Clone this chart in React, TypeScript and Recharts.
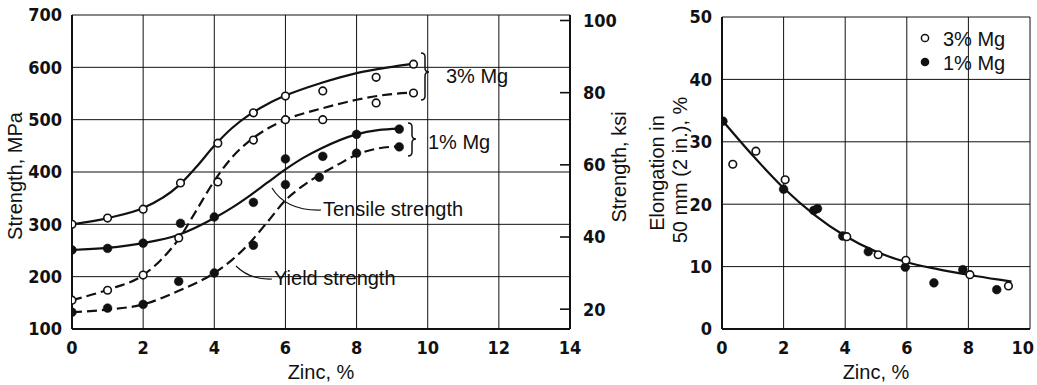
import React from 'react';
import { ComposedChart, Line, Scatter, XAxis, YAxis, CartesianGrid } from 'recharts';

// ---------- data: left chart (strength vs zinc) ----------
const zincTicksLeft = [0, 2, 4, 6, 8, 10, 12, 14];
const mpaTicks = [100, 200, 300, 400, 500, 600, 700];
const ksiTicks = [20, 40, 60, 80, 100];
const MPA_PER_KSI = 6.895;

// measured points (zinc %, MPa)
const mg3TensilePts = [
  { x: 0, y: 300 }, { x: 1, y: 312 }, { x: 2, y: 329 }, { x: 3.05, y: 379 }, { x: 4.1, y: 455 },
  { x: 5.1, y: 513 }, { x: 6, y: 545 }, { x: 7.05, y: 555 }, { x: 8.55, y: 581 }, { x: 9.6, y: 606 },
];
const mg3YieldPts = [
  { x: 0, y: 155 }, { x: 1, y: 174 }, { x: 2, y: 203 }, { x: 3, y: 274 }, { x: 4.1, y: 381 },
  { x: 5.1, y: 461 }, { x: 6, y: 500 }, { x: 7.05, y: 500 }, { x: 8.55, y: 532 }, { x: 9.6, y: 551 },
];
const mg1TensilePts = [
  { x: 0, y: 251 }, { x: 1, y: 254 }, { x: 2, y: 264 }, { x: 3.05, y: 302 }, { x: 4, y: 314 },
  { x: 5.1, y: 342 }, { x: 6, y: 425 }, { x: 7.05, y: 430 }, { x: 8, y: 472 }, { x: 9.2, y: 482 },
];
const mg1YieldPts = [
  { x: 0, y: 132 }, { x: 1, y: 140 }, { x: 2, y: 147 }, { x: 3, y: 191 }, { x: 4, y: 207 },
  { x: 5.1, y: 260 }, { x: 6, y: 376 }, { x: 6.95, y: 390 }, { x: 8, y: 436 }, { x: 9.2, y: 448 },
];

// fitted curves (zinc %, MPa)
const mg3TensileCurve = [
  { x: 0, y: 300 }, { x: 1, y: 312 }, { x: 2, y: 331 }, { x: 3, y: 374 }, { x: 3.5, y: 410 },
  { x: 4, y: 450 }, { x: 4.5, y: 484 }, { x: 5, y: 510 }, { x: 5.5, y: 530 }, { x: 6, y: 546 },
  { x: 7, y: 570 }, { x: 8, y: 589 }, { x: 9, y: 601 }, { x: 9.6, y: 607 },
];
const mg3YieldCurve = [
  { x: 0, y: 155 }, { x: 1, y: 175 }, { x: 2, y: 203 }, { x: 2.5, y: 232 }, { x: 3, y: 272 },
  { x: 3.5, y: 327 }, { x: 4, y: 383 }, { x: 4.5, y: 428 }, { x: 5, y: 460 }, { x: 5.5, y: 483 },
  { x: 6, y: 500 }, { x: 7, y: 521 }, { x: 8, y: 538 }, { x: 9, y: 549 }, { x: 9.6, y: 552 },
];
const mg1TensileCurve = [
  { x: 0, y: 251 }, { x: 1, y: 255 }, { x: 2, y: 264 }, { x: 3, y: 280 }, { x: 4, y: 312 },
  { x: 4.5, y: 332 }, { x: 5, y: 355 }, { x: 5.5, y: 380 }, { x: 6, y: 405 }, { x: 6.5, y: 427 },
  { x: 7, y: 445 }, { x: 8, y: 472 }, { x: 8.6, y: 480 }, { x: 9.2, y: 483 },
];
const mg1YieldCurve = [
  { x: 0, y: 132 }, { x: 1, y: 137 }, { x: 2, y: 147 }, { x: 3, y: 173 }, { x: 4, y: 207 },
  { x: 4.5, y: 232 }, { x: 5, y: 265 }, { x: 5.5, y: 305 }, { x: 6, y: 346 }, { x: 6.5, y: 374 },
  { x: 7, y: 396 }, { x: 7.5, y: 415 }, { x: 8, y: 433 }, { x: 8.6, y: 445 }, { x: 9.2, y: 449 },
];

// ---------- data: right chart (elongation vs zinc) ----------
const zincTicksRight = [0, 2, 4, 6, 8, 10];
const elongTicks = [0, 10, 20, 30, 40, 50];
const elong3MgPts = [
  { x: 0.35, y: 26.4 }, { x: 1.1, y: 28.5 }, { x: 2.05, y: 23.9 }, { x: 4.05, y: 14.8 },
  { x: 5.07, y: 11.9 }, { x: 5.97, y: 11.0 }, { x: 8.05, y: 8.7 }, { x: 9.3, y: 6.9 },
];
const elong1MgPts = [
  { x: 0.03, y: 33.3 }, { x: 2.0, y: 22.4 }, { x: 2.98, y: 19.0 }, { x: 3.1, y: 19.3 },
  { x: 3.92, y: 14.9 }, { x: 4.75, y: 12.4 }, { x: 5.95, y: 9.9 }, { x: 6.88, y: 7.4 },
  { x: 7.82, y: 9.5 }, { x: 8.92, y: 6.3 },
];
const elongCurve = [
  { x: 0, y: 33.5 }, { x: 1, y: 27.8 }, { x: 2, y: 22.6 }, { x: 3, y: 18.3 }, { x: 4, y: 14.9 },
  { x: 5, y: 12.4 }, { x: 6, y: 10.7 }, { x: 7, y: 9.6 }, { x: 8, y: 8.7 }, { x: 9, y: 7.9 },
  { x: 9.4, y: 7.6 },
];

// ---------- styles ----------
const TICK_FONT = "'Liberation Sans Narrow', 'Arial Narrow', 'DejaVu Sans Condensed', sans-serif";
const LABEL_FONT = "'Liberation Sans', Arial, Helvetica, sans-serif";
const INK = '#111';
const DASH = '10 5';
const tickStyle = { fontFamily: TICK_FONT, fontSize: 18, fontWeight: 'bold', fill: INK };

const OpenDot = (props: any) => {
  const { cx, cy } = props;
  if (cx == null || cy == null) return null;
  return <circle cx={cx} cy={cy} r={3.8} fill="#fff" stroke={INK} strokeWidth={1.6} />;
};
const FilledDot = (props: any) => {
  const { cx, cy } = props;
  if (cx == null || cy == null) return null;
  return <circle cx={cx} cy={cy} r={4.4} fill={INK} stroke={INK} strokeWidth={0.5} />;
};

const KsiTick = (props: any) => {
  const { x, y, payload } = props;
  const axisX = x - 13;
  return (
    <g>
      <line x1={axisX - 10} x2={axisX} y1={y} y2={y} stroke={INK} strokeWidth={1.6} />
      <text x={x} y={y} dy="0.36em" textAnchor="start" style={tickStyle as any} fill={INK}>
        {payload.value}
      </text>
    </g>
  );
};

// bottom tick for the right chart: keeps the last label inside the page
const RightXTick = (props: any) => {
  const { x, y, payload } = props;
  const last = payload.value === zincTicksRight[zincTicksRight.length - 1];
  return (
    <text x={last ? x + 5 : x} y={y} dy="0.71em" textAnchor={last ? 'end' : 'middle'} style={tickStyle as any} fill={INK}>
      {payload.value}
    </text>
  );
};

const Brace = ({ x, y0, y1, ym }: { x: number; y0: number; y1: number; ym: number }) => (
  <path
    d={`M${x},${y0} q4,0 4,4 L${x + 4},${ym - 4} q0,4 4,4 q-4,0 -4,4 L${x + 4},${y1 - 4} q0,4 -4,4`}
    fill="none"
    stroke={INK}
    strokeWidth={1.5}
  />
);

export default function App() {
  const txt = { fontFamily: LABEL_FONT, fontSize: 20, fill: INK } as any;
  return (
    <div style={{ position: 'absolute', left: 0, top: 0, width: 1037, height: 385, background: '#fff' }}>
      <div style={{ position: 'absolute', left: 0, top: 0 }}>
        <ComposedChart width={640} height={385} margin={{ top: 15, right: 0, bottom: 16, left: 0 }}>
          <CartesianGrid stroke={INK} strokeWidth={1} yAxisId="mpa" />
          <XAxis
            dataKey="x"
            type="number"
            domain={[0, 14]}
            ticks={zincTicksLeft}
            allowDataOverflow
            height={40}
            tickLine={false}
            tickSize={0}
            tickMargin={12}
            axisLine={{ stroke: INK, strokeWidth: 2 }}
            tick={tickStyle}
          />
          <YAxis
            yAxisId="mpa"
            type="number"
            domain={[100, 700]}
            ticks={mpaTicks}
            allowDataOverflow
            width={72}
            tickLine={false}
            tickSize={0}
            tickMargin={10}
            axisLine={{ stroke: INK, strokeWidth: 2 }}
            tick={tickStyle}
          />
          <YAxis
            yAxisId="ksi"
            orientation="right"
            type="number"
            domain={[100 / MPA_PER_KSI, 700 / MPA_PER_KSI]}
            ticks={ksiTicks}
            allowDataOverflow
            width={70}
            tickLine={false}
            tickSize={0}
            tickMargin={13}
            axisLine={{ stroke: INK, strokeWidth: 2 }}
            tick={<KsiTick />}
          />
          <Line yAxisId="mpa" data={mg3TensileCurve} dataKey="y" type="monotone" stroke={INK} strokeWidth={2.2} dot={false} isAnimationActive={false} />
          <Line yAxisId="mpa" data={mg3YieldCurve} dataKey="y" type="monotone" stroke={INK} strokeWidth={2.2} strokeDasharray={DASH} dot={false} isAnimationActive={false} />
          <Line yAxisId="mpa" data={mg1TensileCurve} dataKey="y" type="monotone" stroke={INK} strokeWidth={2.2} dot={false} isAnimationActive={false} />
          <Line yAxisId="mpa" data={mg1YieldCurve} dataKey="y" type="monotone" stroke={INK} strokeWidth={2.2} strokeDasharray={DASH} dot={false} isAnimationActive={false} />
          <Scatter yAxisId="mpa" data={mg3TensilePts} dataKey="y" shape={<OpenDot />} isAnimationActive={false} />
          <Scatter yAxisId="mpa" data={mg3YieldPts} dataKey="y" shape={<OpenDot />} isAnimationActive={false} />
          <Scatter yAxisId="mpa" data={mg1TensilePts} dataKey="y" shape={<FilledDot />} isAnimationActive={false} />
          <Scatter yAxisId="mpa" data={mg1YieldPts} dataKey="y" shape={<FilledDot />} isAnimationActive={false} />
        </ComposedChart>
      </div>
      <div style={{ position: 'absolute', left: 640, top: 0 }}>
        <ComposedChart width={397} height={385} margin={{ top: 17, right: 7, bottom: 16, left: 0 }}>
          <CartesianGrid stroke={INK} strokeWidth={1} />
          <XAxis
            dataKey="x"
            type="number"
            domain={[0, 10]}
            ticks={zincTicksRight}
            allowDataOverflow
            height={40}
            tickLine={false}
            tickSize={0}
            tickMargin={12}
            axisLine={{ stroke: INK, strokeWidth: 2 }}
            tick={<RightXTick />}
          />
          <YAxis
            type="number"
            domain={[0, 50]}
            ticks={elongTicks}
            allowDataOverflow
            width={82}
            tickLine={false}
            tickSize={0}
            tickMargin={10}
            axisLine={{ stroke: INK, strokeWidth: 2 }}
            tick={tickStyle}
          />
          <Line data={elongCurve} dataKey="y" type="monotone" stroke={INK} strokeWidth={2.2} dot={false} isAnimationActive={false} />
          <Scatter data={elong1MgPts} dataKey="y" shape={<FilledDot />} isAnimationActive={false} />
          <Scatter data={elong3MgPts} dataKey="y" shape={<OpenDot />} isAnimationActive={false} />
        </ComposedChart>
      </div>
      <svg width={1037} height={385} style={{ position: 'absolute', left: 0, top: 0, pointerEvents: 'none' }}>
        {/* axis titles */}
        <text transform="translate(15,176) rotate(-90)" textAnchor="middle" dominantBaseline="central" style={txt}>Strength, MPa</text>
        <text x={321} y={372} textAnchor="middle" dominantBaseline="central" style={txt}>Zinc, %</text>
        <text transform="translate(619,167) rotate(-90)" textAnchor="middle" dominantBaseline="central" style={txt}>Strength, ksi</text>
        <text transform="translate(657,173) rotate(-90)" textAnchor="middle" dominantBaseline="central" style={txt}>Elongation in</text>
        <text transform="translate(680,170) rotate(-90)" textAnchor="middle" dominantBaseline="central" style={txt}>50 mm (2 in.), %</text>
        <text x={876} y={372} textAnchor="middle" dominantBaseline="central" style={txt}>Zinc, %</text>
        {/* annotations left chart */}
        <Brace x={421} y0={53} y1={100} ym={72} />
        <text x={446} y={76} dominantBaseline="central" style={txt}>3% Mg</text>
        <Brace x={408} y0={123} y1={156} ym={139} />
        <text x={428} y={142} dominantBaseline="central" style={txt}>1% Mg</text>
        <path d="M272,188 Q286,211 321,210" fill="none" stroke={INK} strokeWidth={1.2} />
        <text x={323} y={209} dominantBaseline="central" style={txt}>Tensile strength</text>
        <path d="M236,266 Q250,280 272,279" fill="none" stroke={INK} strokeWidth={1.2} />
        <text x={274} y={278} dominantBaseline="central" style={txt}>Yield strength</text>
        {/* legend right chart */}
        <circle cx={925} cy={38} r={3.6} fill="#fff" stroke={INK} strokeWidth={1.5} />
        <text x={943} y={39} dominantBaseline="central" style={txt}>3% Mg</text>
        <circle cx={925} cy={62} r={4.3} fill={INK} />
        <text x={943} y={63} dominantBaseline="central" style={txt}>1% Mg</text>
      </svg>
    </div>
  );
}
